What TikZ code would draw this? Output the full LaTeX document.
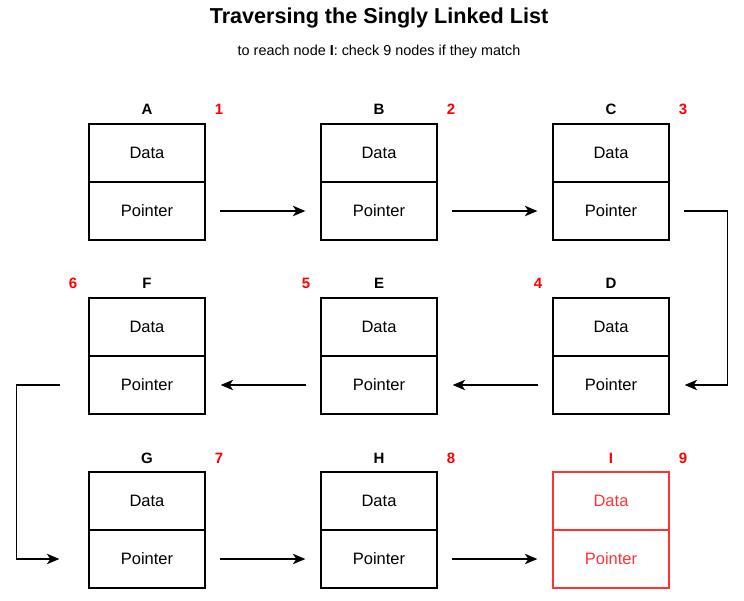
\documentclass[tikz,border=0pt]{standalone}
\usepackage{fontspec}
\setmainfont{Liberation Sans}
\usetikzlibrary{arrows.meta}
\definecolor{hired}{HTML}{FF3333}
\definecolor{numred}{HTML}{FF0000}
\begin{document}
\begin{tikzpicture}[x=1pt,y=-1pt,
  cell/.style={draw, line width=1.3pt, minimum width=116pt, minimum height=58pt, inner sep=0pt,
    font=\fontsize{16.5}{18}\selectfont, text=black},
  redcell/.style={cell, draw=hired, text=hired},
  lbl/.style={anchor=base, inner sep=0pt, font=\bfseries\fontsize{15}{17}\selectfont},
  num/.style={lbl, text=numred},
  arr/.style={line width=1.3pt, -{Stealth[length=12.5pt,width=10.5pt,inset=3.5pt]}},
  elbow/.style={arr, rounded corners=0pt}
]
\useasboundingbox (0,0) rectangle (744,601);

\node[anchor=base, inner sep=0pt, font=\bfseries\fontsize{21.6}{24}\selectfont] (title) at (379,24) {Traversing the Singly Linked List};
\node[anchor=base, inner sep=0pt, font=\fontsize{14.4}{16}\selectfont] (subtitle) at (379,56) {to reach node \textbf{I}: check 9 nodes if they match};

\foreach \n/\cx/\ty/\num/\nx in {A/147/124/1/219, B/379/124/2/451, C/611/124/3/683,
    D/611/298/4/538, E/379/298/5/306, F/147/298/6/73,
    G/147/472/7/219, H/379/472/8/451} {
  \node[cell] (\n-d) at (\cx,\ty+29) {Data};
  \node[cell] (\n-p) at (\cx,\ty+87) {Pointer};
  \node[lbl] (\n-l) at (\cx,\ty-9) {\n};
  \node[num] (\n-n) at (\nx,\ty-9) {\num};
}
\node[redcell] (I-d) at (611,501) {Data};
\node[redcell] (I-p) at (611,559) {Pointer};
\node[num] (I-l) at (611,463) {I};
\node[num] (I-n) at (683,463) {9};

\draw[arr] ([xshift=14pt]A-p.east) -- ([xshift=-15pt]B-p.west);
\draw[arr] ([xshift=14pt]B-p.east) -- ([xshift=-15pt]C-p.west);
\draw[elbow] ([xshift=14pt]C-p.east) -- ++(44,0) |- ([xshift=15pt]D-p.east);
\draw[arr] ([xshift=-14pt]D-p.west) -- ([xshift=15pt]E-p.east);
\draw[arr] ([xshift=-14pt]E-p.west) -- ([xshift=15pt]F-p.east);
\draw[elbow] ([xshift=-28pt]F-p.west) -- ++(-44,0) |- ([xshift=-29pt]G-p.west);
\draw[arr] ([xshift=14pt]G-p.east) -- ([xshift=-15pt]H-p.west);
\draw[arr] ([xshift=14pt]H-p.east) -- ([xshift=-15pt]I-p.west);
\end{tikzpicture}
\end{document}
